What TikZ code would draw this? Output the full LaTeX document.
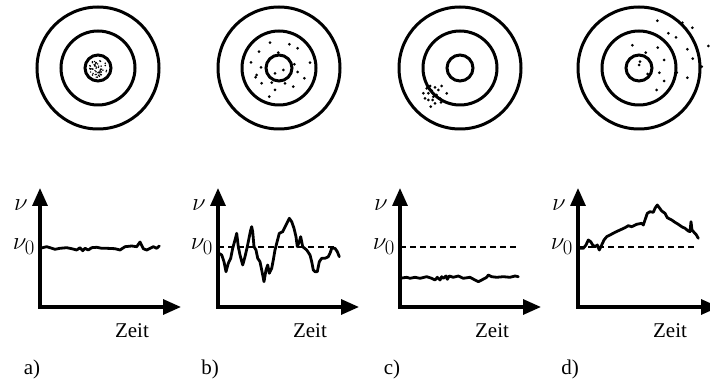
\documentclass[tikz,border=0pt]{standalone}
\usepackage{fontspec}
\setmainfont{Liberation Serif}
\usetikzlibrary{arrows.meta,calc}

\begin{document}
\begin{tikzpicture}[x=1pt,y=-1pt,every node/.style={font=\fontsize{21}{24}\selectfont,inner sep=0pt},
 ring/.style={line width=3pt},
 axis/.style={line width=3.2pt,line join=miter,{Triangle[length=18pt,width=15pt]}-{Triangle[length=18pt,width=15pt]}},
 ref/.style={line width=1.4pt,dash pattern=on 5.5pt off 4.5pt},
 trace/.style={line width=2.8pt,line join=round,line cap=round},
 sym/.style={font=\fontsize{24.88}{28}\selectfont}]
\useasboundingbox (0,0) rectangle (710,379);
% targets
\foreach \cx/\lbl in {98/a,279/b,460/c,639/d}{
 \coordinate (t\lbl) at (\cx,68);
 \draw[ring] (t\lbl) circle[radius=61] (t\lbl) circle[radius=37] (t\lbl) circle[radius=13];
}
% hits
\pgfmathsetseed{11}
\foreach \i in {1,...,55}{
 \pgfmathsetmacro\rr{9.5*sqrt(rnd)}\pgfmathsetmacro\tt{360*rnd}
 \fill ($(ta)+(\tt:\rr)$) circle[radius=0.8];
}
\foreach \x/\y in {270/42.7,289.3/44.3,297.7/48.3,259/51.7,278.3/52.7,251/62.3,294.3/64.3,310/62.7,261/67.3,283.3/70,
 275/73.3,297.7/72,256.7/75,255.7/77.3,304.3/78.3,261.7/83.3,271.7/82.7,285/83.3,293.3/86.7,275/90,269.3/96.7}
 \fill (\x,\y) circle[radius=1.5];
\foreach \x/\y in {423.3/93.3,426.7/88.3,430/86,431.7/90.7,435/87.3,438.3/90,441.7/86,446.7/93.3,425/98.3,428.3/100,
 433.3/96.7,436.7/95,440/98.3,430.7/106.7,435/103.3,441/102.3,428.3/93.3,432.7/100}
 \fill (\x,\y) circle[radius=1.5];
\foreach \x/\y in {657.3/20.7,682.3/22.7,692.3/27.7,668.3/33.3,676/37.3,632.3/45.3,657.7/47.7,645.7/52.7,687.3/49.3,708.3/46,
 692.7/58.7,664/60,640/61.7,639/65,701.7/66.7,659.3/72.7,676.7/72.7,647.7/74,664/81,687.3/77.7,656.7/90}
 \fill (\x,\y) circle[radius=1.5];
% plots
\foreach \ox/\lbl in {40/a,218/b,400/c,578/d}{
 \coordinate (o\lbl) at (\ox,307);
 \coordinate (y\lbl) at (\ox,188);
 \coordinate (x\lbl) at (\ox+141,307);
 \draw[axis] (y\lbl) -- (o\lbl) -- (x\lbl);
 \node[sym] (nu\lbl) at (\ox-19,205) {$\nu$};
 \node[sym,anchor=east] (nuz\lbl) at (\ox-5,247) {$\nu_0$};
 \node (zeit\lbl) at (\ox+92,331) {Zeit};
 \node (lab\lbl) at (\ox-8,369) {\lbl)};
}
\foreach \ox in {218,400,578}
 \draw[ref] (\ox,247) -- (\ox+117,247);
\draw[trace] plot coordinates {(40,248.3) (46.7,246.7) (50,247.7) (55,249.3) (60,248.3) (66.7,247.7) (71.7,248.7) (76.7,250)
 (80,247.7) (82.7,250.7) (85,248.3) (88.3,250) (91.7,247.7) (96.7,247.3) (101.7,248.3) (106.7,248.3) (115,248.7) (120,250)
 (125,246.7) (131.7,246) (136.7,246.7) (140,242) (143.3,248.7) (146.7,250) (153.3,246.7) (156.7,248.3) (159.3,246)};
\draw[trace] plot coordinates {(218.5,253) (221.7,255) (224,261.7) (226,271.7) (228.3,263.3) (230.7,258.3) (232.7,248.3) (235,240)
 (236.7,233.3) (238.3,246.7) (240,255) (242.7,265) (245,256.7) (247.3,246.7) (249.3,236.7) (250.7,230) (251.7,226.7)
 (252.7,231.7) (254,246.7) (256,250) (257.7,258.3) (260,261.7) (262.7,275) (264,281.7) (266,270) (267.7,265) (269.3,273.3)
 (271.7,268.3) (273.3,260) (275,250) (276.7,243.3) (279.3,233.3) (282.7,231.7) (286,225) (289.3,218.3) (291.7,221.7)
 (294,228.3) (296,236.7) (297.3,246.7) (299.3,241.7) (300.7,236.7) (302.7,246.7) (306.7,250) (310,255) (311.7,261.7)
 (313.3,270) (315,271.7) (317.3,271.7) (319.3,261.7) (321.7,258.3) (325,258.3) (328.3,256.7) (330,253.3) (331.7,248.3)
 (335,248.3) (337.3,251.7) (339.3,256.7)};
\draw[trace] plot coordinates {(400,278.3) (406.7,277.3) (410,278.3) (415,277.3) (420,278.3) (426.7,276.7) (431.7,278.3) (435,280)
 (437.3,277.3) (440,280) (441.7,276.7) (443.3,278.3) (446,276) (447.3,279.3) (449.3,276) (453.3,277.3) (458.3,276)
 (463.3,278.3) (470,277.3) (475,280) (478.3,281.7) (481.7,280) (486.7,277.3) (488.3,275) (491.7,276.7) (496.7,277.3)
 (503.3,276.7) (510,277.3) (515,276) (518.3,276.7)};
\draw[trace] plot coordinates {(578.5,248.3) (583.3,248.3) (586,245) (588.3,240) (590.7,241.7) (592.7,245) (595,246.7) (597.3,245)
 (599.3,250) (601.7,245) (604,240) (606.7,236.7) (610,235) (615,232.3) (620,230) (625,227.7) (628.3,225.7) (631.7,226.7)
 (636.7,224.3) (641.7,223.3) (643.3,225) (645,220) (647.3,213.3) (650,211.7) (653.3,212.3) (655,208.3) (657.3,205)
 (659.3,207.7) (661.7,211) (665,213.3) (667.3,217.7) (671.7,220) (675,222.3) (678.3,224.3) (681.7,226.7) (685,228.3)
 (688.3,231) (690,231.7) (691,221.7) (692,230) (694,232.3) (696,234.3) (698.3,238.3)};
\end{tikzpicture}
\end{document}
